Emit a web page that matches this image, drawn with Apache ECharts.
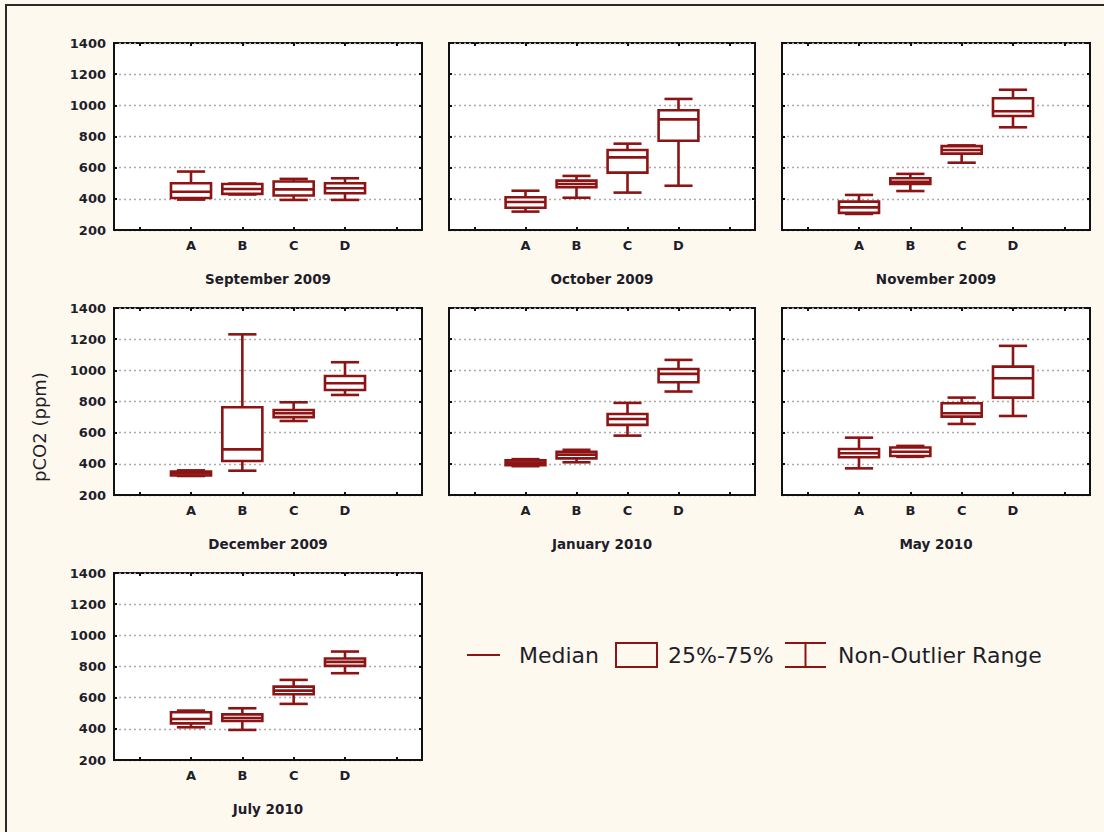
<!DOCTYPE html>
<html>
<head>
<meta charset="utf-8">
<script src="https://cdn.jsdelivr.net/npm/echarts@6/dist/echarts.min.js"></script>
<style>
  html, body { margin: 0; padding: 0; background: #fef9ee; }
  #frame { position: absolute; left: 5px; top: 4px; width: 1099px; height: 828px;
           border-left: 2px solid #2a2a2a; border-top: 2px solid #2a2a2a; box-sizing: border-box; }
  #chart { position: absolute; left: 0; top: 0; width: 1104px; height: 832px; }
</style>
</head>
<body>
<div id="frame"></div>
<div id="chart"></div>
<script>
// pCO2 (ppm) by site, one panel per sampling month.
// Each site entry: [min, Q1, median, Q3, max]  (non-outlier range and 25%-75% box)
const sites = ['A', 'B', 'C', 'D'];
const months = ['September 2009', 'October 2009', 'November 2009',
                'December 2009', 'January 2010', 'May 2010', 'July 2010'];
const yTicks = [200, 400, 600, 800, 1000, 1200, 1400];

const sep2009 = [[395, 405, 445, 500, 575], [428, 432, 463, 495, 498], [393, 421, 461, 511, 528], [393, 436, 468, 500, 532]];
const oct2009 = [[318, 343, 380, 410, 452], [407, 474, 495, 517, 547], [440, 568, 666, 713, 754], [484, 773, 910, 968, 1041]];
const nov2009 = [[303, 310, 345, 382, 425], [450, 495, 510, 532, 560], [632, 690, 713, 738, 743], [859, 932, 962, 1045, 1100]];
const dec2009 = [[322, 325, 338, 350, 358], [356, 418, 493, 763, 1231], [675, 700, 725, 745, 795], [842, 874, 917, 964, 1052]];
const jan2010 = [[385, 392, 408, 422, 430], [410, 435, 459, 478, 490], [581, 650, 688, 720, 791], [864, 924, 977, 1009, 1067]];
const may2010 = [[371, 442, 468, 495, 568], [445, 450, 478, 505, 515], [656, 703, 725, 789, 825], [707, 825, 949, 1024, 1157]];
const jul2010 = [[410, 435, 463, 506, 517], [393, 450, 470, 493, 532], [560, 622, 645, 671, 714], [757, 804, 830, 851, 896]];

const panels = [sep2009, oct2009, nov2009, dec2009, jan2010, may2010, jul2010];

const RED = '#8c1414';
const INK = '#1e1e2a';
const colLeft = [114, 449, 782];
const colWidth = [308, 306, 308];
const rowTop = [43, 308, 573];
const rowHeight = 187;

// category axis has an empty slot on each side of A..D
const xCats = [''].concat(sites, ['']);

const grids = [], xAxes = [], yAxes = [], series = [];

function renderBox(params, api) {
  const x = api.value(0);
  const band = api.size([1, 0])[0];
  const half = band * 0.39;
  const cap = band * 0.275;
  const pMin = api.coord([x, api.value(1)]);
  const pQ1 = api.coord([x, api.value(2)]);
  const pMed = api.coord([x, api.value(3)]);
  const pQ3 = api.coord([x, api.value(4)]);
  const pMax = api.coord([x, api.value(5)]);
  const cx = pMed[0];
  const style = { stroke: RED, lineWidth: 2.6, fill: null };
  const line = (x1, y1, x2, y2) => ({ type: 'line', shape: { x1, y1, x2, y2 }, style });
  return {
    type: 'group',
    children: [
      line(cx, pMax[1], cx, pQ3[1]),
      line(cx, pQ1[1], cx, pMin[1]),
      line(cx - cap, pMax[1], cx + cap, pMax[1]),
      line(cx - cap, pMin[1], cx + cap, pMin[1]),
      { type: 'rect', shape: { x: cx - half, y: pQ3[1], width: half * 2, height: pQ1[1] - pQ3[1] },
        style: { stroke: RED, lineWidth: 2.6, fill: '#ffffff' } },
      line(cx - half, pMed[1], cx + half, pMed[1])
    ]
  };
}

const labelFont = { color: INK, fontFamily: 'DejaVu Sans', fontWeight: 'bold', fontSize: 13 };

panels.forEach((data, i) => {
  const row = Math.floor(i / 3), col = i % 3;
  grids.push({
    left: colLeft[col], top: rowTop[row], width: colWidth[col], height: rowHeight,
    show: true, backgroundColor: '#ffffff', borderColor: '#111111', borderWidth: 2
  });
  // bottom axis with site labels and the month title
  xAxes.push({
    type: 'category', gridIndex: i, data: xCats, boundaryGap: true,
    axisLine: { show: true, lineStyle: { color: '#111', width: 2 } },
    axisTick: { show: true, inside: true, alignWithLabel: true, length: 3, lineStyle: { color: '#111', width: 2 } },
    axisLabel: Object.assign({ show: true, margin: 9 }, labelFont),
    splitLine: { show: false },
    name: months[i], nameLocation: 'middle', nameGap: 42,
    nameTextStyle: Object.assign({}, labelFont, { fontSize: 13.5 })
  });
  // top axis: tick marks only
  xAxes.push({
    type: 'category', gridIndex: i, data: xCats, boundaryGap: true, position: 'top',
    axisLine: { show: false },
    axisTick: { show: true, inside: true, alignWithLabel: true, length: 3, lineStyle: { color: '#111', width: 2 } },
    axisLabel: { show: false }, splitLine: { show: false }
  });
  yAxes.push({
    type: 'value', gridIndex: i, min: 200, max: 1400, interval: 200,
    axisLine: { show: true, lineStyle: { color: '#111', width: 2 } },
    axisTick: { show: true, inside: true, length: 3, lineStyle: { color: '#111', width: 2 } },
    axisLabel: Object.assign({
      show: col === 0, margin: 8,
      formatter: v => (yTicks.indexOf(v) >= 0 ? String(v) : '')
    }, labelFont),
    splitLine: { show: true, lineStyle: { color: '#aaaaaa', type: [2, 3], width: 1.3 } }
  });
  yAxes.push({
    type: 'value', gridIndex: i, min: 200, max: 1400, interval: 200, position: 'right',
    axisLine: { show: false },
    axisTick: { show: true, inside: true, length: 3, lineStyle: { color: '#111', width: 2 } },
    axisLabel: { show: false }, splitLine: { show: false }
  });
  series.push({
    type: 'custom', xAxisIndex: i * 2, yAxisIndex: i * 2,
    renderItem: renderBox,
    encode: { x: 0, y: [1, 2, 3, 4, 5] },
    data: data.map((d, k) => [k + 1].concat(d)),
    silent: true, animation: false
  });
});

const legendY = 655;
const txt = { fill: INK, fontFamily: 'DejaVu Sans', fontSize: 22 };
const graphic = [
  { type: 'text', x: 39, y: 427, rotation: Math.PI / 2,
    style: { text: 'pCO2 (ppm)', fill: INK, fontFamily: 'DejaVu Sans', fontSize: 18, align: 'center', verticalAlign: 'middle' } },
  { type: 'line', shape: { x1: 467, y1: legendY, x2: 500, y2: legendY }, style: { stroke: RED, lineWidth: 2 } },
  { type: 'text', x: 519, y: legendY, style: Object.assign({ text: 'Median', verticalAlign: 'middle' }, txt) },
  { type: 'rect', shape: { x: 616, y: 643, width: 41, height: 24 }, style: { stroke: RED, lineWidth: 2, fill: null } },
  { type: 'text', x: 668, y: legendY, style: Object.assign({ text: '25%-75%', verticalAlign: 'middle' }, txt) },
  { type: 'line', shape: { x1: 785, y1: 643, x2: 826, y2: 643 }, style: { stroke: RED, lineWidth: 2 } },
  { type: 'line', shape: { x1: 785, y1: 667, x2: 826, y2: 667 }, style: { stroke: RED, lineWidth: 2 } },
  { type: 'line', shape: { x1: 805.5, y1: 643, x2: 805.5, y2: 667 }, style: { stroke: RED, lineWidth: 2 } },
  { type: 'text', x: 838, y: legendY, style: Object.assign({ text: 'Non-Outlier Range', verticalAlign: 'middle' }, txt) }
];

const chart = echarts.init(document.getElementById('chart'), null, { renderer: 'svg' });
chart.setOption({
  animation: false,
  backgroundColor: 'transparent',
  grid: grids, xAxis: xAxes, yAxis: yAxes, series: series,
  graphic: graphic
});
</script>
</body>
</html>
